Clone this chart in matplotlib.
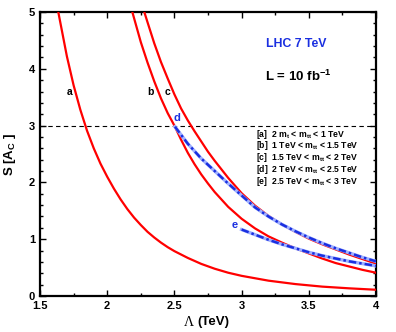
import matplotlib
matplotlib.use("Agg")
import matplotlib.pyplot as plt
from matplotlib.ticker import MultipleLocator

plt.rcParams['font.family'] = ['Liberation Sans', 'DejaVu Sans']
plt.rcParams['font.weight'] = 'bold'
plt.rcParams['mathtext.fontset'] = 'custom'
plt.rcParams['mathtext.rm'] = 'Liberation Sans:bold'
plt.rcParams['mathtext.it'] = 'Liberation Sans:bold'
plt.rcParams['mathtext.bf'] = 'Liberation Sans:bold'

# curve a : 2 m_t < m_tt < 1 TeV
lam_a = [1.636, 1.7, 1.75, 1.8, 1.85, 1.9, 1.95, 2.0, 2.05, 2.1, 2.15, 2.2, 2.25, 2.3,
         2.35, 2.4, 2.45, 2.5, 2.6, 2.7, 2.8, 2.9, 3.0, 3.2, 3.4, 3.6, 3.8, 4.0]
s_a = [5.0, 4.22, 3.71, 3.28, 2.91, 2.6, 2.33, 2.1, 1.89, 1.7, 1.53, 1.38, 1.25, 1.13,
       1.03, 0.94, 0.86, 0.79, 0.67, 0.565, 0.48, 0.41, 0.355, 0.27, 0.21, 0.165,
       0.135, 0.11]

# curve b : 1 - 1.5 TeV
lam_b = [2.187, 2.25, 2.3, 2.35, 2.4, 2.45, 2.5, 2.55, 2.6, 2.65, 2.7, 2.75, 2.8, 2.9,
         3.0, 3.1, 3.2, 3.3, 3.4, 3.5, 3.6, 3.7, 3.8, 3.9, 4.0]
s_b = [5.0, 4.47, 4.11, 3.78, 3.48, 3.22, 3.0, 2.75, 2.52, 2.32, 2.14, 1.98, 1.83,
       1.57, 1.36, 1.19, 1.05, 0.94, 0.84, 0.75, 0.66, 0.58, 0.52, 0.46, 0.41]

# curve c : 1.5 - 2 TeV
lam_c = [2.276, 2.3, 2.35, 2.4, 2.45, 2.5, 2.55, 2.6, 2.65, 2.7, 2.75, 2.8, 2.9, 3.0,
         3.1, 3.2, 3.3, 3.4, 3.5, 3.6, 3.7, 3.8, 3.9, 4.0]
s_c = [5.0, 4.82, 4.45, 4.12, 3.83, 3.55, 3.3, 3.09, 2.9, 2.72, 2.54, 2.38, 2.08, 1.81,
       1.59, 1.41, 1.26, 1.13, 1.01, 0.91, 0.82, 0.73, 0.65, 0.57]

# curve d : 2 - 2.5 TeV
lam_d = [2.504, 2.6, 2.7, 2.8, 2.9, 3.0, 3.1, 3.2, 3.3, 3.4, 3.5, 3.6, 3.7, 3.8, 3.9, 4.0]
s_d = [2.98, 2.68, 2.42, 2.2, 1.98, 1.77, 1.56, 1.40, 1.26, 1.14, 1.03, 0.93, 0.84,
       0.76, 0.68, 0.61]

# curve e : 2.5 - 3 TeV
lam_e = [3.0, 3.1, 3.2, 3.3, 3.4, 3.5, 3.6, 3.7, 3.8, 3.9, 4.0]
s_e = [1.17, 1.08, 0.99, 0.91, 0.84, 0.77, 0.71, 0.66, 0.61, 0.57, 0.53]

legend_lines = [r"[a]  2 m$_\mathregular{t}$ < m$_\mathregular{tt}$ < 1 TeV",
                r"[b]  1 TeV < m$_\mathregular{tt}$ < 1.5 TeV",
                r"[c]  1.5 TeV < m$_\mathregular{tt}$ < 2 TeV",
                r"[d]  2 TeV < m$_\mathregular{tt}$ < 2.5 TeV",
                r"[e]  2.5 TeV < m$_\mathregular{tt}$ < 3 TeV"]

fig = plt.figure(figsize=(3.96, 3.32), dpi=100)
ax = fig.add_axes([40/396, 1-296/332, 336/396, 284/332])

for lx, ly in [(lam_a, s_a), (lam_b, s_b), (lam_c, s_c)]:
    ax.plot(lx, ly, color='red', lw=1.6, zorder=3)
for lx, ly in [(lam_d, s_d), (lam_e, s_e)]:
    ax.plot(lx, ly, color='#9fb0ff', lw=2.4, zorder=4)
    ax.plot(lx, ly, color='#1a2fe0', lw=1.8, ls=(0, (3, 1.2, 1, 1.2)), zorder=5)

ax.axhline(3, color='black', lw=0.8, ls=(0, (4, 3)), zorder=2)

ax.text(1.723, 3.59, 'a', fontsize=7.5, ha='center', va='center')
ax.text(2.324, 3.59, 'b', fontsize=7.5, ha='center', va='center')
ax.text(2.452, 3.59, 'c', fontsize=7.5, ha='center', va='center')
ax.text(2.519, 3.13, 'd', fontsize=8, color='#1a2fe0', ha='center', va='center')
ax.text(2.951, 1.25, 'e', fontsize=8, color='#1a2fe0', ha='center', va='center')

ax.text(3.405, 4.44, 'LHC 7 TeV', fontsize=8.8, color='#1a2fe0', ha='center', va='center')
ax.text(3.42, 3.86, r'L = 10 fb$^\mathregular{-1}$', fontsize=9.5, ha='center', va='center')

for i, t in enumerate(legend_lines):
    ax.text(3.107, 2.85 - i*0.208, t, fontsize=6.2, ha='left', va='center')

ax.set_xlim(1.5, 4)
ax.set_ylim(0, 5)
ax.xaxis.set_minor_locator(MultipleLocator(0.25))
ax.yaxis.set_minor_locator(MultipleLocator(0.2))
ax.set_xticks([1.5, 2, 2.5, 3, 3.5, 4])
ax.set_xticklabels(['1.5', '2', '2.5', '3', '3.5', '4'], fontweight='bold')
ax.set_yticks([0, 1, 2, 3, 4, 5])
ax.set_yticklabels(['0', '1', '2', '3', '4', '5'], fontweight='bold')
ax.tick_params(which='both', direction='in', top=True, right=True, labelsize=8, width=1)
ax.tick_params(which='major', length=4)
ax.tick_params(which='minor', length=2)
for sp in ax.spines.values():
    sp.set_linewidth(1.6)

# x label: serif Lambda followed by bold sans "(TeV)"
fig.text(189/396, 1-322/332, '\u039b', fontsize=10, fontweight='normal',
         family=['Liberation Serif', 'DejaVu Serif'], ha='center', va='center')
fig.text(197/396, 1-322/332, '(TeV)', fontsize=9.5, fontweight='bold',
         ha='left', va='center')

ax.set_ylabel(r'S [A$_\mathregular{C}$ ]', fontsize=9.5, fontweight='bold')
ax.yaxis.set_label_coords(-22/336, 0.5)

fig.savefig('out.png', dpi=100)
